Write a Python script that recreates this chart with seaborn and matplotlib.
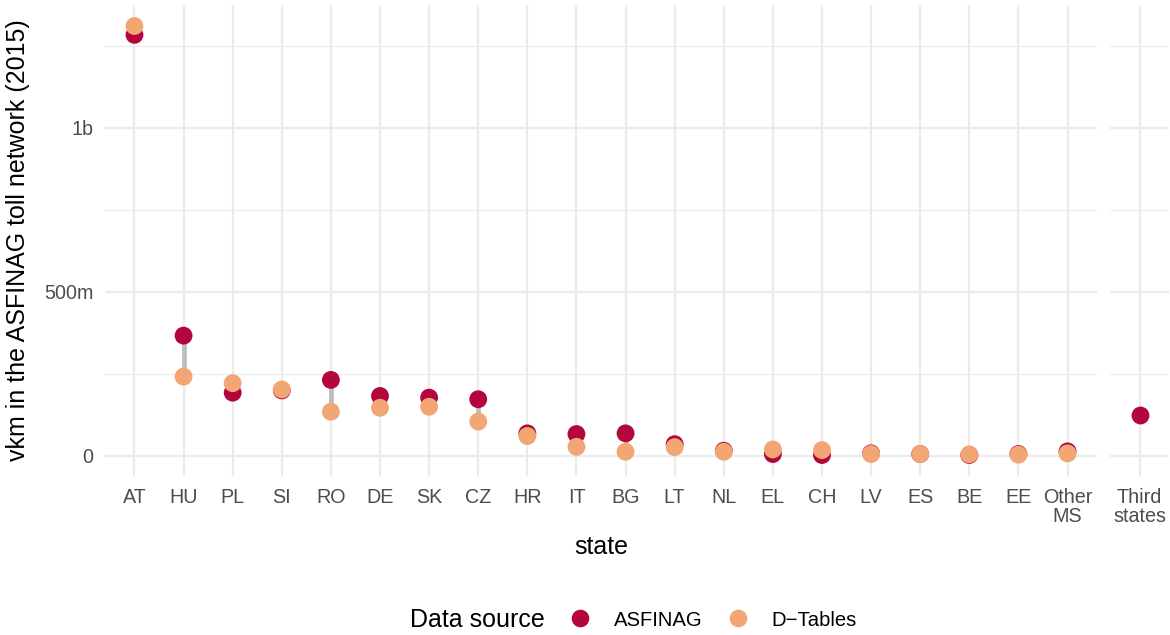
import pandas as pd
import matplotlib.pyplot as plt
import seaborn as sns
from matplotlib.lines import Line2D
from matplotlib.ticker import FixedLocator, FuncFormatter

# values, in million vkm
states = ["AT", "HU", "PL", "SI", "RO", "DE", "SK", "CZ", "HR", "IT",
          "BG", "LT", "NL", "EL", "CH", "LV", "ES", "BE", "EE", "Other\nMS"]
asfinag = [1283, 366, 192, 199, 231, 182, 177, 172, 68, 66,
           68, 35, 15, 5, 2, 7, 5, 2, 5, 13]
dtables = [1310, 241, 221, 202, 134, 146, 149, 104, 60, 27,
           12, 26, 12, 19, 17, 5, 5, 4, 3, 7]
third_states = ["Third\nstates"]
third_asfinag = [124]

colors = {"ASFINAG": "#B2063D", "D\u2212Tables": "#F1A673"}

sns.set_style("white")
plt.rcParams["font.family"] = ["Liberation Sans", "DejaVu Sans"]
plt.rcParams["text.color"] = "black"

main = pd.DataFrame({"state": states, "ASFINAG": asfinag, "D\u2212Tables": dtables})
long = main.melt(id_vars="state", var_name="source", value_name="vkm")
third = pd.DataFrame({"state": third_states, "source": "ASFINAG", "vkm": third_asfinag})

fig = plt.figure(figsize=(11.7, 6.35), dpi=100)
ax = fig.add_axes([105 / 1170, 1 - 476 / 635, 992 / 1170, 471 / 635])
ax2 = fig.add_axes([1110 / 1170, 1 - 476 / 635, 59 / 1170, 471 / 635])

# grey connectors between the two sources
ax.vlines(main["state"], main[["ASFINAG", "D\u2212Tables"]].min(axis=1),
          main[["ASFINAG", "D\u2212Tables"]].max(axis=1),
          color="#BEBEBE", lw=3.4, zorder=2)

sns.scatterplot(data=long, x="state", y="vkm", hue="source", palette=colors,
                s=165, linewidth=0, legend=False, ax=ax, zorder=3)
sns.scatterplot(data=third, x="state", y="vkm", hue="source", palette=colors,
                s=165, linewidth=0, legend=False, ax=ax2, zorder=3)

def fmt(v, pos):
    if v == 0:
        return "0"
    if v >= 1000:
        return f"{v / 1000:g}b"
    return f"{v:g}m"

for a, n in [(ax, len(states)), (ax2, 1)]:
    a.set_xlim(-0.6, n - 0.4)
    a.set_ylim(-62, 1374)
    a.yaxis.set_major_locator(FixedLocator([0, 500, 1000]))
    a.yaxis.set_minor_locator(FixedLocator([250, 750, 1250]))
    a.yaxis.set_major_formatter(FuncFormatter(fmt))
    a.grid(True, which="major", color="#EBEBEB", lw=1.6, zorder=0)
    a.grid(True, which="minor", axis="y", color="#EBEBEB", lw=0.8, zorder=0)
    a.set_axisbelow(True)
    for sp in a.spines.values():
        sp.set_visible(False)
    a.tick_params(which="both", length=0, pad=8.5, labelsize=14.2, labelcolor="#4D4D4D")
    a.set_xlabel("")
    a.set_ylabel("")
    for lab in a.get_xticklabels():
        lab.set_linespacing(1.0)

ax2.tick_params(axis="y", labelleft=False)

fig.text(18 / 1170, 1 - 240.5 / 635, "vkm in the ASFINAG toll network (2015)",
         rotation=90, ha="center", va="center", fontsize=18, color="black")
fig.text(601 / 1170, 1 - 547 / 635, "state", ha="center", va="center",
         fontsize=18, color="black")

# legend at the bottom
fig.text(410 / 1170, 1 - 620 / 635, "Data source", ha="left", va="center",
         fontsize=18, color="black")
handles = [Line2D([], [], marker="o", ls="", markersize=12.7, markeredgewidth=0,
                  color=c) for c in colors.values()]
fig.legend(handles, list(colors.keys()), ncol=2, loc="center left",
           bbox_to_anchor=(568 / 1170, 1 - 620 / 635), frameon=False,
           fontsize=14.6, handlelength=1.2, handletextpad=1.05,
           columnspacing=1.15, borderpad=0, borderaxespad=0)

fig.savefig("out.png", dpi=100)
